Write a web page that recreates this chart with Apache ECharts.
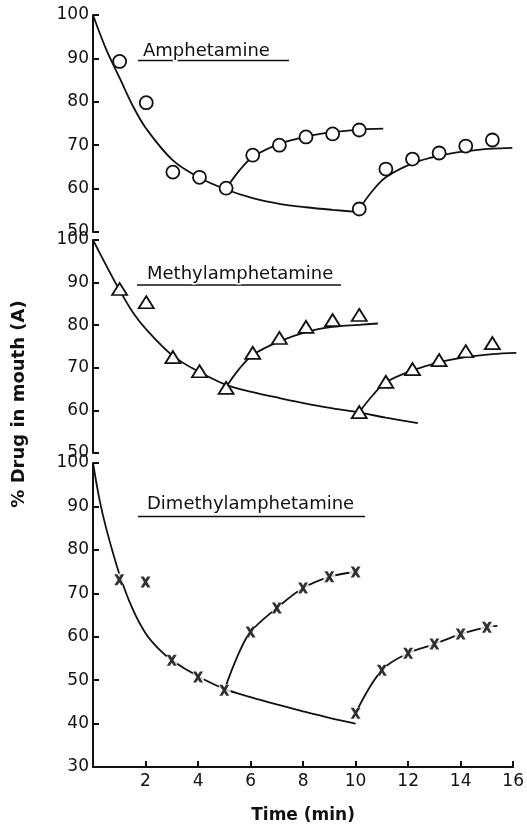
<!DOCTYPE html>
<html><head><meta charset="utf-8">
<script src="https://cdn.jsdelivr.net/npm/echarts@6/dist/echarts.min.js"></script>
<style>html,body{margin:0;padding:0;background:#fff}#c{width:527px;height:829px}</style>
</head><body><div id="c"></div>
<script>
// ---- data (time in min, % drug in mouth) ----
const panelTitles = ['Amphetamine', 'Methylamphetamine', 'Dimethylamphetamine'];
const yAxisName = '% Drug in mouth (A)';
const xAxisName = 'Time (min)';

// Amphetamine
const ampPoints = [[1,89.3],[2,79.8],[3,63.8],[4,62.6],[5,60.1],[6,67.7],[7,70.0],[8,71.9],[9,72.6],[10,73.5],
                   [10,55.3],[11,64.5],[12,66.8],[13,68.2],[14,69.8],[15,71.2]];
const ampDecay = [[0,100],[0.5,92],[1,85.5],[1.5,79],[2,73.8],[3,66.5],[4,62.5],[5,59.8],[6,57.8],[7,56.5],[8,55.7],[9,55.1],[10,54.6]];
const ampRec1 = [[5,60],[5.5,64.2],[6,67.3],[7,70.3],[8,72],[9,73],[10,73.6],[10.9,73.8]];
const ampRec2 = [[10,55.3],[10.5,59.5],[11,62.6],[12,65.8],[13,67.6],[14,68.6],[15,69.2],[15.75,69.4]];

// Methylamphetamine
const methPoints = [[1,88.5],[2,85.4],[3,72.5],[4,69.2],[5,65.3],[6,73.5],[7,77],[8,79.6],[9,81.2],[10,82.4],
                    [10,59.6],[11,66.7],[12,69.7],[13,71.8],[14,73.9],[15,75.8]];
const methDecay = [[0,100],[0.5,94],[1,88.2],[1.5,83],[2,79],[3,72.8],[4,69],[5,66],[6,64.3],[7,62.9],[8,61.6],[9,60.5],[10,59.5],[11,58.3],[12.2,57]];
const methRec1 = [[5,65.5],[5.5,69.8],[6,73],[7,76.2],[8,78.4],[9,79.6],[10,80.1],[10.7,80.4]];
const methRec2 = [[10,59.6],[10.5,63.5],[11,66.6],[12,69.4],[13,71.3],[14,72.5],[15,73.2],[15.9,73.5]];

// Dimethylamphetamine
const dimPoints = [[1,73.1],[2,72.6],[3,54.6],[4,50.7],[5,47.7],[6,61.1],[7,66.6],[8,71.2],[9,73.8],[10,74.9],
                   [10,42.4],[11,52.3],[12,56.2],[13,58.3],[14,60.6],[15,62.2]];
const dimDecay = [[0,100],[0.25,91.5],[0.5,85],[1,74.5],[1.5,66.5],[2,60.8],[2.5,57.2],[3,54.6],[4,50.9],[5,48],[6,46.1],[7,44.4],[8,42.8],[9,41.3],[10,40]];
const dimRec1 = [[5,47.7],[5.5,55.5],[6,61.1],[7,66.6],[8,71.2],[9,73.8],[10,74.9]];
const dimRec2 = [[10,42.4],[11,52.3],[12,56.2],[13,58.3],[14,60.6],[15,62.2],[15.4,62.5]];

// ---- chart ----
const INK = '#111';
const FONT = 'DejaVu Sans';
const chart = echarts.init(document.getElementById('c'), null, {renderer: 'canvas'});

const grids = [
  {left: 93, width: 426, top: 15, height: 217},
  {left: 93, width: 426, top: 240, height: 213},
  {left: 93, width: 426, top: 463, height: 304}
];
const yRanges = [[50,100],[50,100],[30,100]];

const xAxes = grids.map((g, i) => ({
  type: 'value', gridIndex: i, min: 0, max: 16, interval: 2,
  show: i === 2,
  name: i === 2 ? xAxisName : '',
  nameLocation: 'middle', nameGap: 40,
  nameTextStyle: {color: INK, fontFamily: FONT, fontSize: 17, fontWeight: 'bold'},
  axisLine: {show: true, lineStyle: {color: INK, width: 2}},
  axisTick: {show: true, inside: true, length: 6, lineStyle: {color: INK, width: 2}},
  axisLabel: {color: INK, fontFamily: FONT, fontSize: 17, margin: 6,
              formatter: v => v === 0 ? '' : String(v)},
  splitLine: {show: false}
}));

const yAxes = grids.map((g, i) => ({
  type: 'value', gridIndex: i, min: yRanges[i][0], max: yRanges[i][1], interval: 10,
  axisLine: {show: true, lineStyle: {color: INK, width: 2}},
  axisTick: {show: true, inside: true, length: 6, lineStyle: {color: INK, width: 2}},
  axisLabel: {color: INK, fontFamily: FONT, fontSize: 17, margin: 4},
  splitLine: {show: false}
}));

function curve(data, gi) {
  return {type: 'line', xAxisIndex: gi, yAxisIndex: gi, data: data, smooth: 0.35,
          showSymbol: false, symbol: 'none', z: 2, silent: true,
          lineStyle: {color: INK, width: 1.8}};
}
function markers(data, gi, symbol, size, opts) {
  return Object.assign({type: 'scatter', xAxisIndex: gi, yAxisIndex: gi, data: data, symbol: symbol,
          symbolSize: size, z: 4, silent: true,
          itemStyle: {color: '#fff', borderColor: INK, borderWidth: 1.8, opacity: 1}}, opts || {});
}

const crossPath = 'path://M0,0L3.2,0L5,2.6L6.8,0L10,0L6.6,5L10,10L6.8,10L5,7.4L3.2,10L0,10L3.4,5Z';

const series = [
  curve(ampDecay, 0), curve(ampRec1, 0), curve(ampRec2, 0),
  markers(ampPoints, 0, 'circle', 13),
  curve(methDecay, 1), curve(methRec1, 1), curve(methRec2, 1),
  markers(methPoints, 1, 'triangle', [15, 12]),
  curve(dimDecay, 2), curve(dimRec1, 2), curve(dimRec2, 2),
  markers(dimPoints, 2, 'circle', 13, {z: 3, itemStyle: {color: '#fff', borderWidth: 0}}),
  markers(dimPoints, 2, crossPath, [10, 11],
          {z: 4, itemStyle: {color: '#000', borderWidth: 0}})
];

const titlePos = [
  {x: 143, y: 51, ux1: 138, ux2: 289, uy: 60.5},
  {x: 147, y: 274, ux1: 137, ux2: 341, uy: 285},
  {x: 147, y: 504, ux1: 138, ux2: 365, uy: 516.5}
];
const graphics = [];
titlePos.forEach((p, i) => {
  graphics.push({type: 'rect', z: 10, silent: true,
    shape: {x: p.ux1, y: p.uy - 0.8, width: p.ux2 - p.ux1, height: 1.6}, style: {fill: INK}});
  graphics.push({type: 'text', z: 11, silent: true, x: p.x, y: p.y,
    style: {text: panelTitles[i], fill: INK, font: '18px "DejaVu Sans"', textAlign: 'left',
            verticalAlign: 'middle', stroke: '#fff', lineWidth: 3}});
});
graphics.push({type: 'text', z: 11, silent: true, x: 19, y: 404, rotation: Math.PI / 2,
  style: {text: yAxisName, fill: INK, font: 'bold 18px "DejaVu Sans"', textAlign: 'center', verticalAlign: 'middle'}});

chart.setOption({
  backgroundColor: '#fff',
  animation: false,
  grid: grids,
  xAxis: xAxes,
  yAxis: yAxes,
  series: series,
  graphic: {elements: graphics}
});
</script>
</body></html>
